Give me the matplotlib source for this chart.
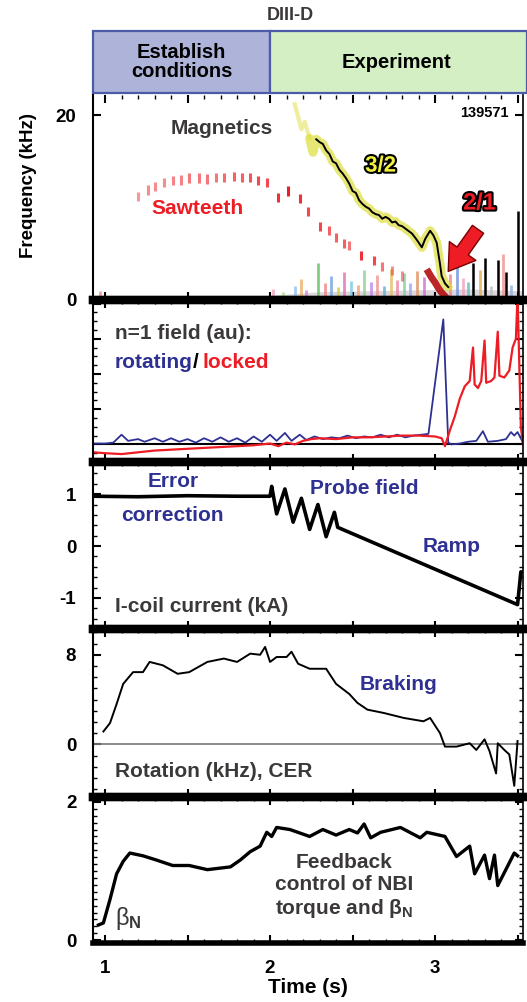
#!/usr/bin/env python3
# diiid_locking.py

import matplotlib
matplotlib.use("Agg")
import matplotlib.pyplot as plt
import matplotlib.patheffects as pe
from matplotlib.patches import Rectangle
from matplotlib.ticker import MultipleLocator, FixedLocator, NullFormatter, FuncFormatter

plt.rcParams["font.family"] = ["Liberation Sans", "DejaVu Sans"]
plt.rcParams["font.weight"] = "bold"
plt.rcParams["axes.unicode_minus"] = False
plt.rcParams["mathtext.fontset"] = "custom"
plt.rcParams["mathtext.rm"] = "Liberation Sans"
plt.rcParams["mathtext.bf"] = "Liberation Sans:bold"
plt.rcParams["mathtext.it"] = "Liberation Sans:italic"

GRAY = "#3b3838"
NAVY = "#2e3192"
RED = "#ee1c24"

# --- header phases
phase_names = ["Establish\nconditions", "Experiment"]
phase_start = [0.927, 2.0]
phase_end = [2.0, 3.56]
phase_colors = ["#aeb3d9", "#d5efc4"]

# --- frequency panel (kHz)
saw_t = [0.97, 1.20, 1.26, 1.30, 1.36, 1.41, 1.46, 1.51, 1.57, 1.62, 1.67, 1.72, 1.78,
         1.83, 1.88, 1.93, 1.98, 2.05, 2.11, 2.18, 2.23, 2.30, 2.36, 2.40, 2.45, 2.48,
         2.55, 2.63, 2.68, 2.74, 2.80]
saw_f = [0.5, 11.2, 11.9, 12.3, 12.7, 12.9, 13.0, 13.2, 13.2, 13.1, 13.3, 13.3, 13.4,
         13.3, 13.3, 12.9, 12.7, 11.1, 11.8, 11.0, 9.6, 8.0, 7.5, 6.8, 6.1, 5.9,
         4.8, 4.3, 3.6, 3.2, 2.6]
saw_alpha = [0.4, 0.45, 0.5, 0.5, 0.5, 0.55, 0.55, 0.6, 0.6, 0.6, 0.6, 0.65, 0.7,
             0.7, 0.75, 0.8, 0.8, 0.9, 1.0, 0.9, 0.8, 0.8, 0.7, 0.7, 0.7, 0.6,
             0.9, 0.8, 0.6, 0.5, 0.5]

mode32_t = [2.15, 2.19, 2.21, 2.24, 2.26, 2.28, 2.30, 2.32, 2.34, 2.36, 2.38, 2.40, 2.42,
            2.44, 2.46, 2.48, 2.50, 2.52, 2.54, 2.56, 2.58, 2.60, 2.62, 2.64, 2.66,
            2.68, 2.70, 2.72, 2.74, 2.76, 2.78, 2.80, 2.83, 2.86, 2.89, 2.92, 2.94,
            2.97, 2.99, 3.01, 3.03, 3.04, 3.06, 3.08]
mode32_f = [21.2, 18.5, 19.3, 17.5, 16.0, 17.4, 17.1, 16.9, 16.2, 15.8, 15.0, 14.8, 14.1,
            13.7, 13.2, 12.6, 11.8, 11.6, 10.8, 10.4, 10.1, 9.9, 9.5, 9.3, 9.2,
            8.8, 9.0, 8.8, 8.4, 8.5, 8.1, 8.0, 7.6, 7.2, 6.5, 5.7, 6.6,
            7.5, 7.0, 6.2, 3.9, 2.6, 1.8, 1.4]

locked_t = [2.96, 2.98, 3.00, 3.02, 3.04, 3.06]
locked_f = [3.0, 2.4, 1.9, 1.3, 0.8, 0.4]

spike_t = [3.23, 3.30, 3.38, 3.43, 3.50]
spike_f = [4.0, 4.5, 4.3, 3.0, 9.6]

noise_t = [2.02, 2.08, 2.15, 2.19, 2.22, 2.29, 2.33, 2.37, 2.41, 2.45, 2.49, 2.53, 2.57,
           2.61, 2.65, 2.69, 2.73, 2.77, 2.81, 2.85, 2.89, 2.93, 3.09, 3.13, 3.17,
           3.20, 3.27, 3.34, 3.41, 3.46]
noise_f = [1.2, 0.9, 1.5, 2.3, 1.1, 4.0, 1.8, 2.6, 1.4, 3.0, 2.1, 1.6, 3.3,
           2.0, 2.7, 1.5, 3.4, 2.2, 2.9, 1.8, 3.1, 2.5, 2.8, 3.6, 2.4,
           1.9, 3.2, 1.5, 5.0, 1.6]
noise_colors = ["#f2a0c0", "#b0d890", "#90c0f0", "#f0b060", "#e080e0", "#60c060",
                "#f08080", "#70a0e0", "#d0d040", "#e070b0", "#80c8e0", "#f0a070",
                "#90d090", "#c080f0", "#f09090", "#60b0d0", "#e0c060", "#f080a0",
                "#80d0a0", "#a0a0f0", "#e09060", "#d070d0", "#f08080", "#7090e0",
                "#f0a0c0", "#60c0c0", "#e0b050", "#c0c0c0", "#f09090", "#90b0e0"]

floor_t = [2.0, 2.3, 2.6, 2.9, 3.2, 3.53]
floor_f = [0.5, 0.9, 1.0, 1.1, 1.2, 1.0]

# --- n=1 field (au)
rot_t = [0.93, 1.00, 1.05, 1.10, 1.14, 1.20, 1.24, 1.30, 1.35, 1.40, 1.45, 1.50, 1.55,
         1.60, 1.65, 1.70, 1.75, 1.80, 1.85, 1.90, 1.95, 2.00, 2.04, 2.09, 2.13, 2.18,
         2.22, 2.27, 2.32, 2.37, 2.42, 2.47, 2.52, 2.57, 2.62, 2.67, 2.72, 2.77, 2.82,
         2.87, 2.92, 2.96, 3.05, 3.08, 3.10, 3.15, 3.20, 3.25, 3.29, 3.32, 3.38, 3.43,
         3.46, 3.48, 3.50, 3.533]
rot_v = [0.05, 0.05, 0.1, 0.55, 0.2, 0.3, 0.15, 0.35, 0.15, 0.35, 0.15, 0.3, 0.1,
         0.35, 0.15, 0.4, 0.15, 0.35, 0.1, 0.45, 0.15, 0.55, 0.2, 0.65, 0.2, 0.55,
         0.25, 0.45, 0.3, 0.4, 0.35, 0.5, 0.35, 0.45, 0.4, 0.55, 0.4, 0.55, 0.4,
         0.5, 0.55, 0.6, 7.1, 0.1, 0.0, 0.05, 0.15, 0.2, 0.75, 0.15, 0.2, 0.3,
         0.7, 0.5, 0.7, 0.1]
lock_t = [0.93, 1.00, 1.10, 1.20, 1.30, 1.40, 1.50, 1.60, 1.70, 1.80, 1.90, 2.00, 2.05,
          2.10, 2.15, 2.20, 2.25, 2.30, 2.40, 2.50, 2.60, 2.70, 2.80, 2.90, 3.00, 3.04,
          3.06, 3.09, 3.12, 3.15, 3.18, 3.21, 3.23, 3.24, 3.26, 3.28, 3.30, 3.31, 3.34,
          3.36, 3.38, 3.39, 3.42, 3.45, 3.47, 3.49, 3.50, 3.52, 3.533]
lock_v = [-0.45, -0.5, -0.55, -0.45, -0.35, -0.3, -0.25, -0.2, -0.15, -0.1, -0.05, 0.05, -0.1,
          0.1, 0.0, 0.2, 0.3, 0.35, 0.3, 0.4, 0.4, 0.45, 0.5, 0.5, 0.45, 0.35,
          -0.1, 0.8, 1.6, 2.6, 3.3, 3.6, 5.5, 3.4, 3.2, 3.6, 5.9, 3.5, 3.6,
          3.8, 6.4, 3.9, 3.8, 4.2, 5.5, 6.0, 8.5, 1.0, 0.0]

# --- I-coil current (kA)
icoil_t = [0.93, 1.20, 1.50, 1.80, 2.00, 2.01, 2.04, 2.09, 2.14, 2.19, 2.24, 2.29, 2.34,
           2.39, 2.41, 3.50, 3.52, 3.533]
icoil_v = [0.96, 0.95, 0.97, 0.96, 0.96, 1.15, 0.62, 1.10, 0.46, 0.92, 0.32, 0.80, 0.18,
           0.65, 0.36, -1.13, -0.5, -0.5]

# --- rotation (kHz), CER
cer_t = [0.99, 1.03, 1.07, 1.11, 1.17, 1.23, 1.27, 1.35, 1.44, 1.51, 1.62, 1.72, 1.80,
         1.88, 1.94, 1.97, 2.00, 2.04, 2.10, 2.13, 2.17, 2.24, 2.34, 2.40, 2.48, 2.53,
         2.59, 2.69, 2.81, 2.93, 2.97, 3.03, 3.06, 3.13, 3.21, 3.25, 3.30, 3.33, 3.37,
         3.38, 3.42, 3.45, 3.48, 3.50]
cer_v = [1.15, 1.9, 3.6, 5.4, 6.45, 6.45, 7.36, 7.06, 6.3, 6.45, 7.36, 7.66, 7.36,
         8.1, 8.0, 8.7, 7.36, 7.8, 7.8, 8.27, 7.2, 6.75, 6.75, 5.4, 4.5, 3.7,
         3.1, 2.8, 2.36, 2.06, 2.36, 1.0, -0.2, -0.2, 0.1, -0.5, 0.45, -0.6, -2.6,
         0.1, -0.5, -0.9, -3.7, 0.3]

# --- beta_N
beta_t = [0.96, 0.99, 1.03, 1.07, 1.11, 1.15, 1.23, 1.31, 1.41, 1.51, 1.62, 1.76, 1.82,
          1.88, 1.94, 1.98, 2.01, 2.04, 2.12, 2.24, 2.32, 2.40, 2.48, 2.53, 2.57, 2.61,
          2.67, 2.79, 2.91, 2.95, 3.06, 3.13, 3.21, 3.24, 3.30, 3.33, 3.36, 3.38, 3.48,
          3.50]
beta_v = [0.22, 0.25, 0.59, 0.96, 1.14, 1.26, 1.22, 1.16, 1.08, 1.08, 1.02, 1.06, 1.16,
          1.28, 1.36, 1.56, 1.50, 1.63, 1.60, 1.50, 1.60, 1.52, 1.60, 1.55, 1.68, 1.48,
          1.56, 1.63, 1.48, 1.56, 1.50, 1.21, 1.36, 0.96, 1.23, 0.89, 1.23, 0.79, 1.26,
          1.22]

W, H = 527, 1002
LEFT, RIGHT = 93, 523
XLIM = (0.927, 3.533)
TXT_X = 1.06  # left edge of in-panel captions


def frac(top, bottom, left=LEFT, right=RIGHT):
    return [left / W, 1 - bottom / H, (right - left) / W, (bottom - top) / H]


def style_panel(ax, ylim, yticks, yminor, show_top=True, bottom_lw=6):
    ax.set_xlim(*XLIM)
    ax.set_ylim(*ylim)
    ax.xaxis.set_major_locator(MultipleLocator(0.5))
    ax.xaxis.set_minor_locator(MultipleLocator(0.1))
    ax.xaxis.set_major_formatter(NullFormatter())
    ax.yaxis.set_major_locator(FixedLocator(yticks))
    if yminor:
        ax.yaxis.set_minor_locator(MultipleLocator(yminor))
    ax.tick_params(which="both", direction="in", top=True, right=True, labelsize=13.5)
    ax.tick_params(which="major", length=6, width=1.5)
    ax.tick_params(which="minor", length=3, width=1)
    ax.tick_params(axis="y", pad=12)
    for lab in ax.get_yticklabels():
        lab.set_fontweight("bold")
    ax.spines["left"].set_linewidth(1.5)
    ax.spines["right"].set_linewidth(1.2)
    ax.spines["top"].set_linewidth(6)
    ax.spines["bottom"].set_linewidth(bottom_lw)
    ax.spines["top"].set_visible(show_top)
    ax.patch.set_alpha(0)


fig = plt.figure(figsize=(W / 100, H / 100), dpi=100)

# header
axh = fig.add_axes(frac(31, 93, 92, 527 + 2))
axh.set_xlim(0.921, 0.921 + (527 + 2 - 92) / 165)
axh.set_ylim(0, 1)
axh.axis("off")
for name, t0, t1, c in zip(phase_names, phase_start, phase_end, phase_colors):
    axh.add_patch(Rectangle((t0, 0), t1 - t0, 1, fc=c, ec="#4b5ba8", lw=1.6, clip_on=False))
    axh.text((t0 + min(t1, 3.53)) / 2, 0.5, name, ha="center", va="center",
             fontsize=14.5, color="black", linespacing=1.0)
fig.text(290 / W, 1 - 15 / H, "DIII-D", ha="center", va="center", fontsize=13, color=GRAY)

# panel 1: frequency
ax1 = fig.add_axes(frac(95, 300))
style_panel(ax1, (0, 22.2), [0, 20], None, show_top=False)
ax1.set_ylabel("Frequency (kHz)", fontsize=13.5, fontweight="bold")
ax1.yaxis.set_label_coords(-0.13, 0.56)
ax1.fill_between(floor_t, 0, floor_f, color="#b8b0b8", alpha=0.5, lw=0)
ax1.vlines(noise_t, 0.2, noise_f, colors=noise_colors, lw=2, alpha=0.8)
for t, f, a in zip(saw_t, saw_f, saw_alpha):
    ax1.vlines(t, f - 0.5, f + 0.5, color=RED, lw=2.2, alpha=a)
ax1.plot(mode32_t[:4], mode32_f[:4], color="#dede3c", lw=3, alpha=0.5)
ax1.plot(mode32_t[3:], mode32_f[3:], color="#dede3c", lw=6.5, alpha=0.7, solid_capstyle="round")
ax1.plot(mode32_t[5:], mode32_f[5:], color="black", lw=1.4)
ax1.plot(locked_t, locked_f, color="#b00000", lw=5, alpha=0.85)
ax1.vlines(spike_t, 0, spike_f, color="black", lw=1.8)
ax1.annotate("", xy=(3.07, 2.85), xytext=(3.27, 7.9),
             arrowprops=dict(arrowstyle="simple,head_width=1.3,head_length=1.0,tail_width=0.55",
                             fc=RED, ec="#7a0000", lw=1, mutation_scale=18))
ax1.text(1.71, 18.6, "Magnetics", fontsize=15, color=GRAY, ha="center", va="center")
ax1.text(1.56, 9.9, "Sawteeth", fontsize=15, color=RED, ha="center", va="center")
ax1.text(3.3, 20.2, "139571", fontsize=10.5, color="black", ha="center", va="center")
ax1.text(2.67, 14.5, "3/2", fontsize=16, color="#f2f23c", ha="center", va="center",
         path_effects=[pe.withStroke(linewidth=3, foreground="black")])
ax1.text(3.27, 10.5, "2/1", fontsize=17, color=RED, ha="center", va="center",
         path_effects=[pe.withStroke(linewidth=3, foreground="black")])

# panel 2: n=1 field
ax2 = fig.add_axes(frac(300, 462))
style_panel(ax2, (-1, 8.2), [], 0.5)
ax2.yaxis.set_major_locator(MultipleLocator(2))
ax2.yaxis.set_major_formatter(NullFormatter())
ax2.axhline(0, color="black", lw=1.5)
ax2.plot(rot_t, rot_v, color=NAVY, lw=1.3)
ax2.plot(lock_t, lock_v, color=RED, lw=1.6)
ax2.text(TXT_X, 6.3, "n=1 field (au):", fontsize=15, color=GRAY, va="center")
t_rot = ax2.text(TXT_X, 4.65, "rotating", fontsize=15, color=NAVY, va="center")
fig.canvas.draw()
ax2.annotate("/", xycoords=t_rot, xy=(1, 0.5), va="center", fontsize=15, color="black")
ax2.annotate("locked", xycoords=t_rot, xy=(1, 0.5), xytext=(7, 0), textcoords="offset points",
             va="center", fontsize=15, color=RED)

# panel 3: I-coil current
ax3 = fig.add_axes(frac(462, 629))
style_panel(ax3, (-1.6, 1.62), [-1, 0, 1], 0.2)
ax3.plot(icoil_t, icoil_v, color="black", lw=2.6)
ax3.text(1.41, 1.25, "Error", fontsize=15, color=NAVY, ha="center", va="center")
ax3.text(1.41, 0.58, "correction", fontsize=15, color=NAVY, ha="center", va="center")
ax3.text(2.57, 1.1, "Probe field", fontsize=15, color=NAVY, ha="center", va="center")
ax3.text(3.1, 0.0, "Ramp", fontsize=15, color=NAVY, ha="center", va="center")
ax3.text(TXT_X, -1.17, "I-coil current (kA)", fontsize=15, color=GRAY, va="center")

# panel 4: rotation
ax4 = fig.add_axes(frac(629, 797))
style_panel(ax4, (-4.7, 10.3), [0, 8], 1)
ax4.axhline(0, color="#777777", lw=1.2)
ax4.plot(cer_t, cer_v, color="black", lw=1.4)
ax4.text(2.78, 5.3, "Braking", fontsize=15, color=NAVY, ha="center", va="center")
ax4.text(TXT_X, -2.45, "Rotation (kHz), CER", fontsize=15, color=GRAY, va="center")

# panel 5: beta_N
ax5 = fig.add_axes(frac(797, 943))
style_panel(ax5, (-0.04, 2.07), [0, 2], 0.1, bottom_lw=4)
ax5.plot(beta_t, beta_v, color="black", lw=2.4)
ax5.text(TXT_X, 0.32, r"β$_{\mathbf{N}}$", fontsize=17, color=GRAY, va="center",
         fontweight="normal")
ax5.text(2.45, 0.78, "Feedback\ncontrol of NBI\ntorque and β$_{\\mathbf{N}}$", fontsize=15,
         color=GRAY, ha="center", va="center", linespacing=1.2)
ax5.xaxis.set_major_formatter(FuncFormatter(lambda v, p: f"{v:.0f}" if abs(v - round(v)) < 1e-6 else ""))
ax5.tick_params(axis="x", pad=12, labelsize=13.5)
for lab in ax5.get_xticklabels():
    lab.set_fontweight("bold")
ax5.set_xlabel("Time (s)", fontsize=15, fontweight="bold", labelpad=1)

fig.savefig("out.png", dpi=100)
